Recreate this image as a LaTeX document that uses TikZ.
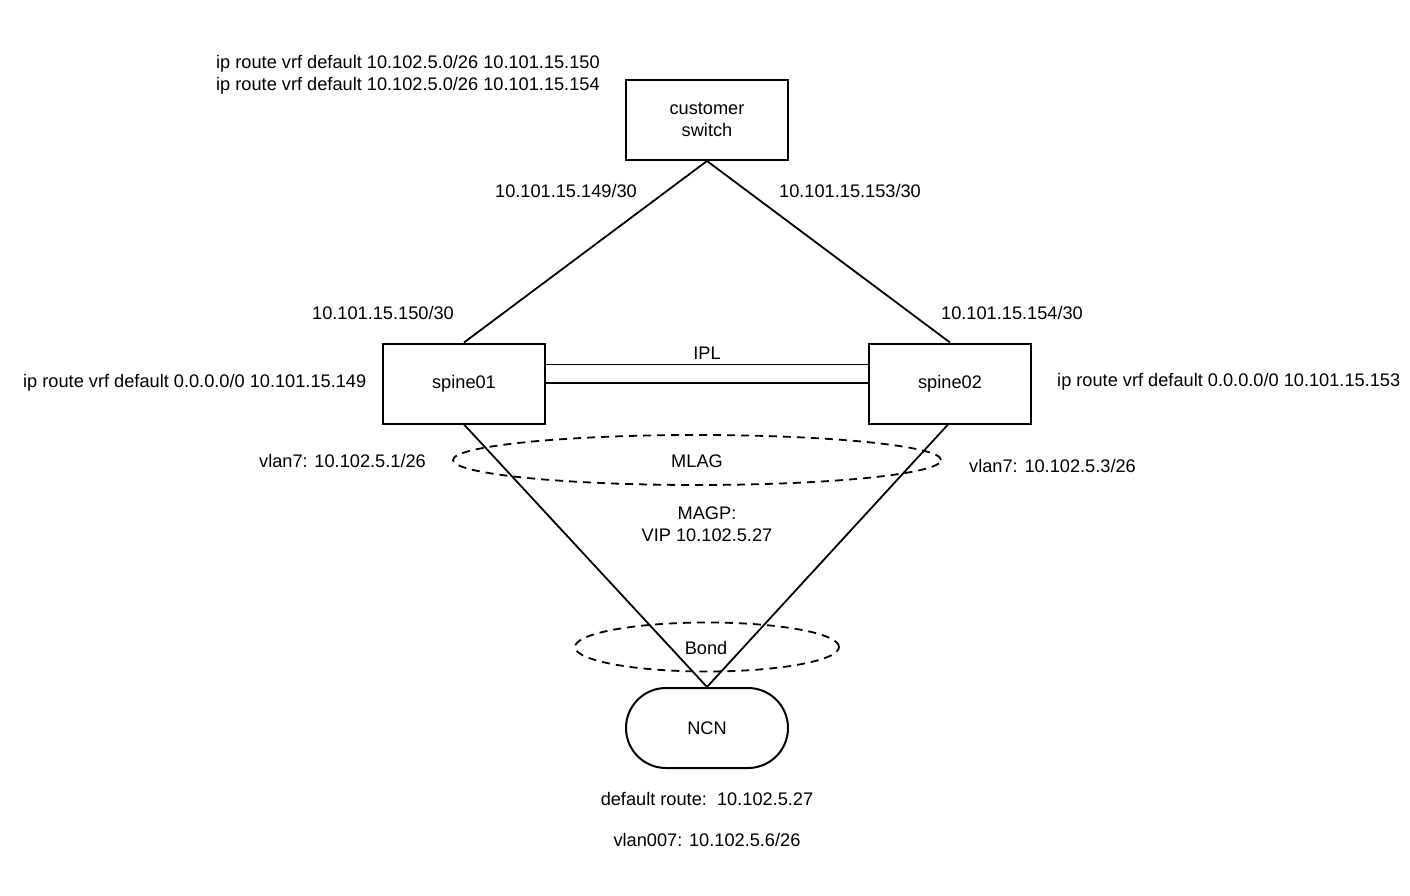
\documentclass[tikz,border=0pt]{standalone}
\usepackage{fontspec}
\setmainfont{Liberation Sans}
\usetikzlibrary{shapes.geometric,shapes.misc}
\begin{document}
\begin{tikzpicture}[x=1pt,y=-1pt,
  every node/.style={font=\fontsize{18.2}{22}\selectfont},
  box/.style={draw,line width=2pt,minimum width=162pt,minimum height=80pt,inner sep=0pt,align=center},
  stadium/.style={draw,line width=2pt,rounded rectangle,minimum width=162pt,minimum height=80pt,inner sep=0pt},
  link/.style={line width=1.8pt},
  grp/.style={draw,line width=1.8pt,dash pattern=on 8pt off 6pt,ellipse,inner sep=0pt},
  lbl/.style={inner sep=0pt,anchor=center}]
\useasboundingbox (0,0) rectangle (1410,896);
\node[box] (cs) at (707,120) {customer\\switch};
\node[box] (s1) at (464,383.5) {spine01};
\node[box] (s2) at (950,383.5) {spine02};
\node[stadium] (ncn) at (707,728) {NCN};
\node[grp,minimum width=488pt,minimum height=50pt] (mlag) at (697,460) {};
\node[grp,minimum width=264pt,minimum height=49pt] (bond) at (707,647) {};
\node[lbl] (mlagl) at (697,461) {MLAG};
\node[lbl] (bondl) at (706,648) {Bond};
\draw[link] (cs.south) -- (s1.north);
\draw[link] (cs.south) -- (s2.north);
\draw[link] (s1.south) -- (ncn.north);
\draw[link] ([xshift=-2pt]s2.south) -- (ncn.north);
\draw[link] ([yshift=19pt]s1.east) -- ([yshift=19pt]s2.west);
\draw[link] ([yshift=0.5pt]s1.east) -- ([yshift=0.5pt]s2.west);
\node[lbl] (ipl) at (707,353) {IPL};
\node[lbl,align=center] (magp) at (707,524.5) {MAGP:\\VIP 10.102.5.27};
\node[lbl,anchor=west] (r1) at (216,64) {ip route vrf default 10.102.5.0/26 10.101.15.150};
\node[lbl,anchor=west] (r2) at (216,86) {ip route vrf default 10.102.5.0/26 10.101.15.154};
\node[lbl] (a1) at (566,191) {10.101.15.149/30};
\node[lbl] (a2) at (850,191) {10.101.15.153/30};
\node[lbl] (a3) at (383,313) {10.101.15.150/30};
\node[lbl] (a4) at (1012,313) {10.101.15.154/30};
\node[lbl,anchor=west] (r3) at (23,383) {ip route vrf default 0.0.0.0/0 10.101.15.149};
\node[lbl,anchor=west] (r4) at (1057,382) {ip route vrf default 0.0.0.0/0 10.101.15.153};
\node[lbl,anchor=west] (v1) at (259,461) {vlan7: 10.102.5.1/26};
\node[lbl,anchor=west] (v2) at (969,466) {vlan7: 10.102.5.3/26};
\node[lbl] (dr) at (707,799) {default route:\ \ 10.102.5.27};
\node[lbl] (v3) at (707,840) {vlan007: 10.102.5.6/26};
\end{tikzpicture}
\end{document}
